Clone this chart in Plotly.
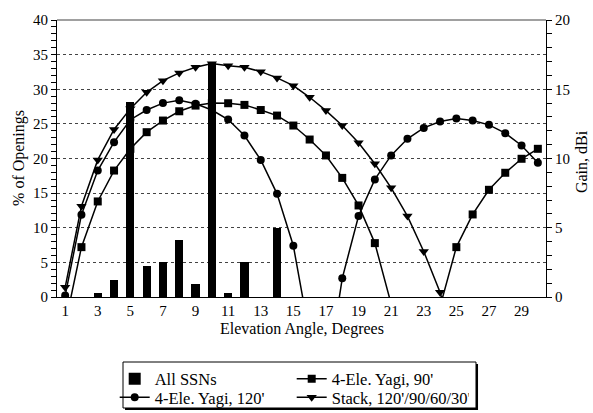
import plotly.graph_objects as go

# Elevation angle categories (degrees)
angles = list(range(1, 31))

# Share of band openings at each elevation angle, all sunspot numbers (%)
openings_pct = [0, 0, 0.65, 2.5, 28.2, 4.45, 5.0, 8.2, 1.9, 33.75,
                0.55, 5.0, 0, 10.0, 0, 0, 0, 0, 0, 0,
                0, 0, 0, 0, 0, 0, 0, 0, 0, 0]

# Antenna gain (dBi) versus elevation angle
yagi_90 = [-2.0, 3.6, 6.9, 9.13, 10.7, 11.9, 12.74, 13.41, 13.82, 14.0,
           13.99, 13.87, 13.5, 13.1, 12.38, 11.37, 10.22, 8.6, 6.61, 3.89,
           -0.5, None, None, -0.7, 3.6, 5.96, 7.74, 8.97, 9.98, 10.7]
yagi_120 = [0.1, 5.94, 9.13, 11.18, 12.8, 13.5, 14.0, 14.2, 13.95, 13.5,
            12.81, 11.66, 9.9, 7.45, 3.7, -2.8, -6.3, 1.35, 5.85, 8.49,
            10.22, 11.42, 12.21, 12.67, 12.88, 12.74, 12.43, 11.83, 10.94, 9.7]
stack = [0.7, 6.56, 9.9, 12.1, 13.6, 14.78, 15.62, 16.18, 16.59, 16.85,
         16.7, 16.59, 16.27, 15.82, 15.26, 14.42, 13.46, 12.38, 11.14, 9.62,
         7.88, 5.84, 3.29, 0.35, -4.0, None, None, None, None, None]

x_labels = list(range(1, 31, 2))
x_bounds = [a - 0.5 for a in angles] + [angles[-1] + 0.5]
pct_ticks = list(range(0, 41, 5))
dbi_ticks = list(range(0, 21, 5))

FONT = "Liberation Serif, Times New Roman, Times, serif"
INK = "black"

fig = go.Figure()

fig.add_trace(go.Bar(
    x=angles, y=openings_pct, name="All SSNs", width=0.5,
    marker=dict(color=INK, line=dict(width=0)), yaxis="y", legend="legend",
))

line_style = dict(color=INK, width=1.5)
fig.add_trace(go.Scatter(
    x=angles, y=yagi_90, name="4-Ele. Yagi, 90'", mode="lines+markers",
    line=line_style, marker=dict(symbol="square", size=8, color=INK),
    yaxis="y2", connectgaps=False, cliponaxis=True, legend="legend",
))
fig.add_trace(go.Scatter(
    x=angles, y=yagi_120, name="4-Ele. Yagi, 120'", mode="lines+markers",
    line=line_style, marker=dict(symbol="circle", size=8, color=INK),
    yaxis="y2", connectgaps=False, cliponaxis=True, legend="legend2",
))
fig.add_trace(go.Scatter(
    x=angles, y=stack, name="Stack, 120'/90/60/30'", mode="lines+markers",
    line=line_style, marker=dict(symbol="triangle-down", size=9, color=INK),
    yaxis="y2", connectgaps=False, cliponaxis=True, legend="legend2",
))

x_range = [0.5, 30.5]
tick_font = dict(family=FONT, size=15, color=INK)
text_font = dict(family=FONT, size=16, color=INK)
legend_font = dict(family=FONT, size=16.5, color=INK)


# overlay axes that draw the inward and outward halves of crossing ticks
def x_tick_axis(direction):
    return dict(range=x_range, overlaying="x", anchor="y", tickmode="array",
                tickvals=x_bounds, ticks=direction, ticklen=5, tickwidth=1,
                tickcolor=INK, showticklabels=False, showline=False,
                showgrid=False, zeroline=False)


def y_tick_axis(direction, side, rng):
    return dict(range=rng, overlaying="y", side=side, anchor="x",
                dtick=5, ticks=direction, ticklen=5,
                tickwidth=1, tickcolor=INK, showticklabels=False,
                showline=False, showgrid=False, zeroline=False,
                minor=dict(dtick=1, ticks=direction, ticklen=5,
                           tickwidth=1, tickcolor=INK, showgrid=False))


def legend_row(y):
    return dict(orientation="h", x=0.118, y=y, xanchor="left",
                yanchor="middle", bgcolor="rgba(0,0,0,0)", borderwidth=0,
                entrywidthmode="pixels", entrywidth=132,
                font=legend_font, traceorder="normal", itemwidth=30,
                tracegroupgap=0)


fig.update_layout(
    width=593, height=413,
    margin=dict(l=57, r=47, t=20, b=116, autoexpand=False),
    paper_bgcolor="white", plot_bgcolor="white",
    font=text_font,
    bargap=0,
    showlegend=True,
    xaxis=dict(range=x_range, tickmode="array", tickvals=x_labels,
               ticktext=[str(v) for v in x_labels], ticks="",
               ticklabelstandoff=0, tickfont=tick_font,
               showline=True, linecolor=INK, linewidth=1,
               showgrid=False, zeroline=False),
    xaxis2=x_tick_axis("outside"),
    xaxis3=x_tick_axis("inside"),
    yaxis=dict(range=[0, 40], tickmode="array", tickvals=pct_ticks,
               ticks="outside", ticklen=5, tickcolor=INK, tickfont=tick_font,
               showline=True, linecolor=INK, linewidth=1,
               showgrid=True, gridcolor="#444444", gridwidth=1,
               griddash="3px,3px", zeroline=False,
               minor=dict(dtick=1, ticks="outside", ticklen=5,
                          tickcolor=INK, showgrid=False)),
    yaxis2=dict(range=[0, 20], overlaying="y", side="right", anchor="x",
                tickmode="array", tickvals=dbi_ticks, ticks="outside",
                ticklen=5, tickcolor=INK, tickfont=tick_font,
                showline=True, linecolor=INK, linewidth=1,
                showgrid=False, zeroline=False,
                minor=dict(dtick=1, ticks="outside", ticklen=5,
                           tickcolor=INK, showgrid=False)),
    yaxis3=y_tick_axis("inside", "left", [0, 40]),
    yaxis4=y_tick_axis("inside", "right", [0, 20]),
    legend=legend_row(-0.296),
    legend2=legend_row(-0.3628),
)

# plot-area top border
fig.add_shape(type="line", xref="paper", yref="paper", x0=0, x1=1, y0=1, y1=1,
              line=dict(color="#808080", width=1.5))

# legend frame with drop shadow
fig.add_shape(type="rect", xref="paper", yref="paper",
              x0=0.1391, x1=0.8610, y0=-0.4079, y1=-0.2419,
              fillcolor=INK, line=dict(width=0))
fig.add_shape(type="rect", xref="paper", yref="paper",
              x0=0.13497, x1=0.85685, y0=-0.40072, y1=-0.23466,
              fillcolor="white", line=dict(color=INK, width=1))

# axis titles
fig.add_annotation(text="Elevation Angle, Degrees", xref="paper", yref="paper",
                   x=0.5, y=-0.1155, xanchor="center", yanchor="middle",
                   showarrow=False, font=text_font)
fig.add_annotation(text="% of Openings", xref="paper", yref="paper",
                   x=-0.0777, y=0.502, xanchor="center", yanchor="middle",
                   textangle=-90, showarrow=False, font=text_font)
fig.add_annotation(text="Gain, dBi", xref="paper", yref="paper",
                   x=1.0716, y=0.487, xanchor="center", yanchor="middle",
                   textangle=-90, showarrow=False, font=text_font)

fig.write_html("out.html")
